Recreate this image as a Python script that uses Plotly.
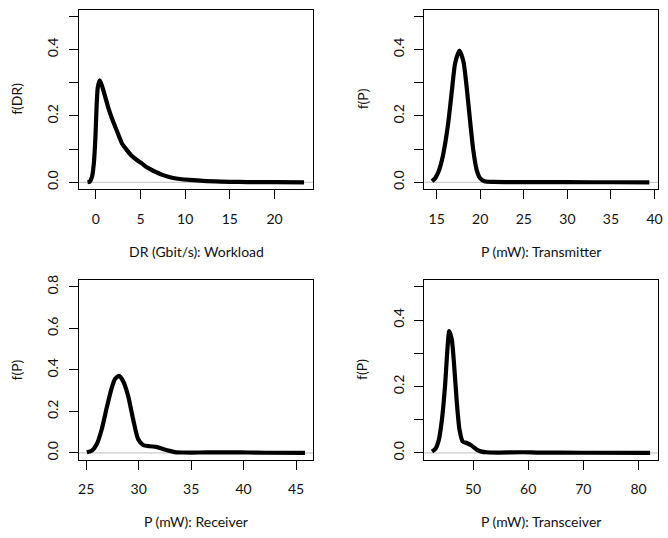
import plotly.graph_objects as go

# ---- data ----
workload_x = [-0.93, -0.67, -0.41, -0.22, -0.04, 0.07, 0.22, 0.44, 0.70, 1.07, 1.44, 1.81, 2.19, 2.56,
              2.93, 3.48, 4.04, 4.59, 5.15, 5.70, 6.26, 6.81, 7.37, 7.93, 8.67, 9.41, 10.5, 12.0,
              14.0, 16.0, 18.0, 20.0, 23.3]
workload_y = [0.0, 0.002, 0.018, 0.057, 0.137, 0.216, 0.285, 0.307, 0.290, 0.256, 0.221, 0.192, 0.166, 0.141,
              0.117, 0.097, 0.079, 0.067, 0.057, 0.045, 0.037, 0.030, 0.023, 0.018, 0.013, 0.010, 0.007, 0.004,
              0.002, 0.001, 0.0005, 0.0003, 0.0]

tx_x = [14.47, 14.85, 15.23, 15.61, 15.98, 16.36, 16.74, 17.12, 17.61, 18.07, 18.45, 18.83, 19.2,
        19.58, 19.96, 20.5, 21.5, 23.0, 26.0, 30.0, 35.0, 39.4]
tx_y = [0.003, 0.013, 0.033, 0.067, 0.117, 0.186, 0.275, 0.359, 0.397, 0.364, 0.285, 0.186, 0.097,
        0.038, 0.013, 0.003, 0.001, 0.0005, 0.0003, 0.0002, 0.0001, 0.0]

rx_x = [25.06, 25.54, 26.01, 26.48, 26.95, 27.43, 27.74, 28.12, 28.53, 29.0, 29.47, 29.94, 30.42,
        31.05, 31.68, 32.31, 32.94, 33.57, 34.2, 35.77, 37.35, 38.9, 40.5, 42.07, 45.85]
rx_y = [0.003, 0.011, 0.043, 0.114, 0.217, 0.313, 0.356, 0.371, 0.344, 0.273, 0.162, 0.067, 0.038,
        0.032, 0.029, 0.019, 0.010, 0.003, 0.002, 0.002, 0.003, 0.003, 0.002, 0.001, 0.0]

trx_x = [42.57, 43.17, 43.77, 44.37, 44.97, 45.27, 45.69, 46.17, 46.59, 47.07, 47.54, 48.14, 48.86,
         49.76, 50.66, 51.56, 52.46, 54.4, 59.2, 61.6, 70.0, 82.1]
trx_y = [0.004, 0.012, 0.037, 0.101, 0.211, 0.290, 0.367, 0.340, 0.261, 0.151, 0.071, 0.034, 0.030,
         0.022, 0.010, 0.004, 0.002, 0.001, 0.002, 0.001, 0.0005, 0.0]

x_titles = ["DR (Gbit/s): Workload", "P (mW): Transmitter", "P (mW): Receiver", "P (mW): Transceiver"]
y_titles = ["f(DR)", "f(P)", "f(P)", "f(P)"]
x_ticks = [[0, 5, 10, 15, 20], [15, 20, 25, 30, 35, 40], [25, 30, 35, 40, 45], [50, 60, 70, 80]]
y_ticks_small = [0.0, 0.1, 0.2, 0.3, 0.4, 0.5]
y_ticktext_small = ["0.0", "", "0.2", "", "0.4", ""]
y_ticks_big = [0.0, 0.2, 0.4, 0.6, 0.8]
y_ticktext_big = ["0.0", "0.2", "0.4", "0.6", "0.8"]

# ---- layout ----
W, H = 668, 538
FONT = "Lato"
FS = 14
TXT = "#111111"

panels = [
    (workload_x, workload_y, (78.7, 315.0, 4.7, 186.0), [-1.88, 24.32], [-0.02, 0.52], y_ticks_small, y_ticktext_small),
    (tx_x, tx_y, (427.3, 663.0, 4.7, 186.0), [13.6, 40.4], [-0.02, 0.52], y_ticks_small, y_ticktext_small),
    (rx_x, rx_y, (78.7, 315.0, 278.3, 459.7), [24.31, 46.63], [-0.032, 0.832], y_ticks_big, y_ticktext_big),
    (trx_x, trx_y, (427.3, 663.3, 278.3, 459.7), [41.2, 83.59], [-0.02, 0.52], y_ticks_small, y_ticktext_small),
]

fig = go.Figure()
layout = dict(
    width=W, height=H, margin=dict(l=0, r=0, t=0, b=0),
    paper_bgcolor="white", plot_bgcolor="white", showlegend=False,
    font=dict(family=FONT, size=FS, color=TXT),
)
shapes = []
annotations = []
for i, (xd, yd, (l, r, t, b), xr, yr, yt, ytt) in enumerate(panels):
    n = "" if i == 0 else str(i + 1)
    xa, ya = "x" + n, "y" + n
    fig.add_trace(go.Scatter(x=xd, y=yd, mode="lines", xaxis=xa, yaxis=ya,
                             line=dict(color="black", width=4.2, shape="spline", smoothing=0.6),
                             hoverinfo="skip"))
    layout["xaxis" + n] = dict(
        domain=[l / W, r / W], range=xr, anchor=ya, tickmode="array", tickvals=x_ticks[i],
        ticks="outside", ticklen=9, tickwidth=1, tickcolor="black", showgrid=False, zeroline=False,
        showline=True, linecolor="black", linewidth=1, mirror=True,
        tickfont=dict(family=FONT, size=FS, color=TXT), ticklabelstandoff=8,
    )
    layout["yaxis" + n] = dict(
        domain=[1 - b / H, 1 - t / H], range=yr, anchor=xa, tickmode="array", tickvals=yt, ticktext=ytt,
        ticks="outside", ticklen=9, tickwidth=1, tickcolor="black", showgrid=False, zeroline=False,
        showline=True, linecolor="black", linewidth=1, mirror=True, tickangle=-90,
        tickfont=dict(family=FONT, size=FS, color=TXT), ticklabelstandoff=5,
    )
    shapes.append(dict(type="line", xref=xa + " domain", yref=ya, x0=0, x1=1, y0=0, y1=0,
                       line=dict(color="#bebebe", width=1), layer="below"))
    annotations.append(dict(text=x_titles[i], xref="paper", yref="paper", x=(l + r) / 2 / W,
                            y=1 - (b + 63) / H, showarrow=False, xanchor="center", yanchor="middle",
                            font=dict(family=FONT, size=FS, color=TXT)))
    annotations.append(dict(text=y_titles[i], xref="paper", yref="paper", x=(l - 63) / W,
                            y=1 - ((t + b) / 2) / H, showarrow=False, xanchor="center", yanchor="middle",
                            textangle=-90, font=dict(family=FONT, size=FS, color=TXT)))

layout["shapes"] = shapes
layout["annotations"] = annotations
fig.update_layout(**layout)
fig.write_html("out.html", config={"displayModeBar": False, "staticPlot": True},
               post_script="document.body.style.margin='0';document.body.style.overflow='hidden';")
